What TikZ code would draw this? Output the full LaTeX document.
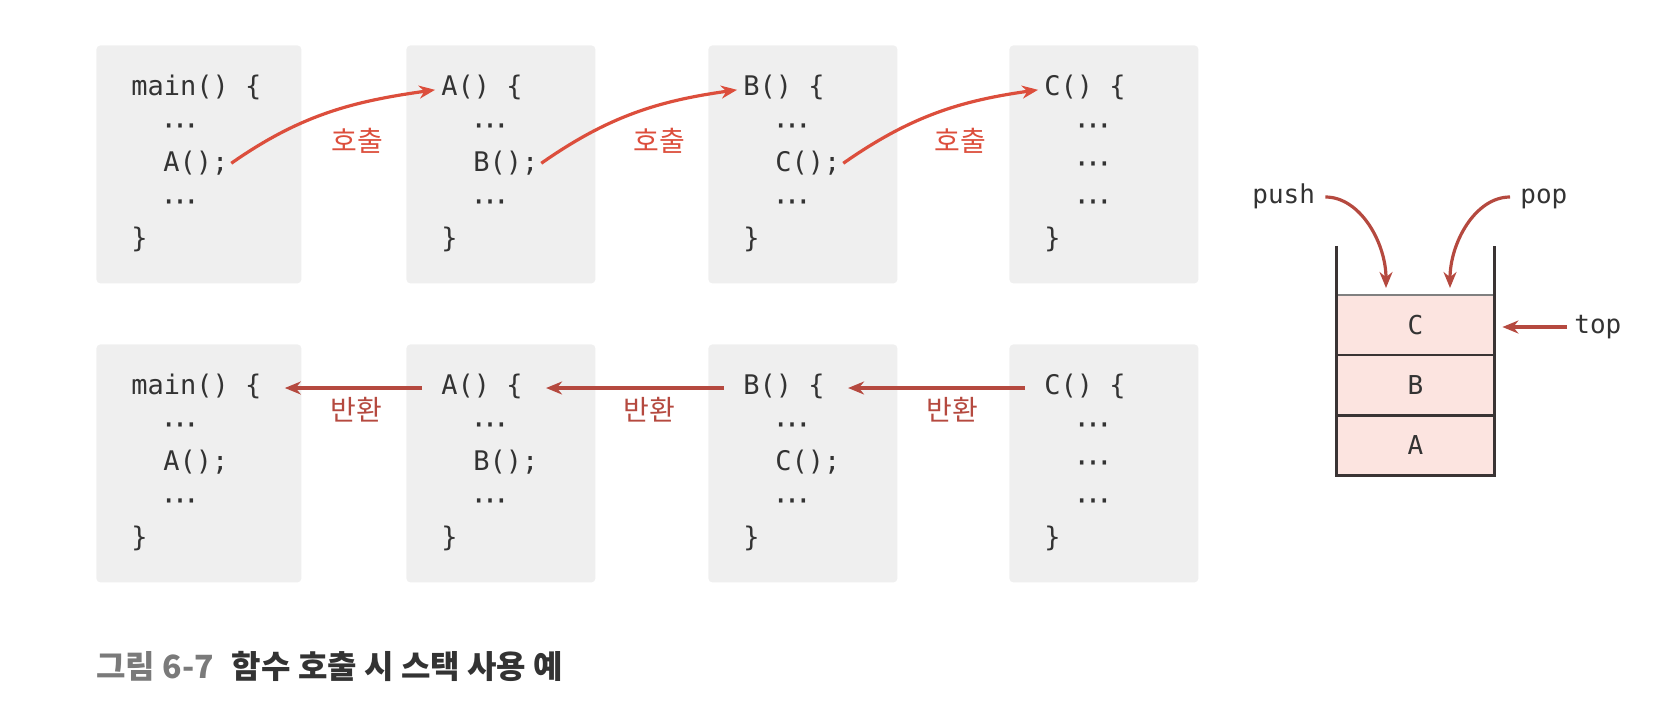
\documentclass[tikz,border=0pt]{standalone}
\usepackage{fontspec}
\setmonofont{DejaVu Sans Mono}
\newfontfamily\cjkfont{Noto Sans CJK KR}
\newfontfamily\symfont{DejaVu Sans}
\usetikzlibrary{arrows.meta,positioning,calc}
\definecolor{boxgray}{HTML}{EFEFEF}
\definecolor{codegray}{HTML}{333333}
\definecolor{callred}{HTML}{DC4E3C}
\definecolor{retred}{HTML}{B5493F}
\definecolor{stackpink}{HTML}{FCE4E0}
\definecolor{wallgray}{HTML}{3A3434}
\definecolor{capgray}{HTML}{7A7A7A}
\newcommand{\codedots}{{\symfont\fontsize{17}{18}\selectfont\raisebox{-1.6pt}{⋯}}}

\begin{document}
\begin{tikzpicture}[
  x=0.5pt, y=0.5pt,
  codebox/.style={
    rectangle,
    rounded corners=2pt,
    fill=boxgray,
    anchor=north west,
    minimum height=119pt,
    inner sep=0pt
  },
  code/.style={
    font=\ttfamily\fontsize{13.5}{16}\selectfont,
    text=codegray,
    anchor=base west,
    inner sep=0pt,
    text height=9pt,
    text depth=3pt
  },
  call/.style={draw=callred, line width=1.6pt, -{Stealth[length=8pt,width=6.5pt]}},
  ret/.style={draw=retred, line width=1.6pt, -{Stealth[length=8pt,width=6.5pt]}},
  calllabel/.style={font=\cjkfont\fontsize{14}{16}\selectfont, text=callred},
  retlabel/.style={font=\cjkfont\fontsize{14}{16}\selectfont, text=retred},
  cell/.style={
    rectangle,
    fill=stackpink,
    minimum width=78.5pt,
    minimum height=29.75pt,
    inner sep=0pt,
    font=\ttfamily\fontsize{13}{16}\selectfont,
    text=codegray
  },
  wall/.style={draw=wallgray, line width=1.4pt},
  stacktext/.style={code, font=\ttfamily\fontsize{13}{16}\selectfont}
]
\useasboundingbox (0,0) rectangle (1669,-707);

% Code frames: calls on top, returns below
\foreach \r/\top in {t/-45, b/-344} {
  \foreach \n/\x/\w/\fname/\callee in {main/96/102.5pt/main/A();, a/406/94.5pt/A/B();, b/708/94.5pt/B/C();, c/1009/94.5pt/C/\codedots} {
    \node[codebox, minimum width=\w] (\r-\n) at (\x,\top) {};
    \node[code] (\r-\n-1) at (\x+35,\top-50) {\fname() \{};
    \node[code] (\r-\n-2) at (\x+67,\top-88) {\codedots};
    \node[code] (\r-\n-3) at (\x+67,\top-126) {\callee};
    \node[code] (\r-\n-4) at (\x+67,\top-164) {\codedots};
    \node[code] (\r-\n-5) at (\x+35,\top-202) {\}};
  }
}

% Calls
\draw[call, shorten <=1.5pt, shorten >=3pt] (t-main-3.east) to[out=35, in=188] (t-a-1.west);
\draw[call, shorten <=1.5pt, shorten >=3pt] (t-a-3.east) to[out=35, in=188] (t-b-1.west);
\draw[call, shorten <=1.5pt, shorten >=3pt] (t-b-3.east) to[out=35, in=188] (t-c-1.west);
\node[calllabel] (call1) at (357,-141) {호출};
\node[calllabel] (call2) at (659,-141) {호출};
\node[calllabel] (call3) at (960,-141) {호출};

% Returns
\draw[ret, shorten <=9.5pt, shorten >=11.5pt] (b-a-1.west) -- (b-main-1.east);
\draw[ret, shorten <=9.5pt, shorten >=11.5pt] (b-b-1.west) -- (b-a-1.east);
\draw[ret, shorten <=9.5pt, shorten >=11.5pt] (b-c-1.west) -- (b-b-1.east);
\node[retlabel] (ret1) at (356,-410) {반환};
\node[retlabel] (ret2) at (649,-410) {반환};
\node[retlabel] (ret3) at (952,-410) {반환};

% Stack
\node[cell] (cellA) at (1415.5,-445.5) {A};
\node[cell, above=0pt of cellA] (cellB) {B};
\node[cell, above=0pt of cellB] (cellC) {C};
\draw[gray, line width=0.8pt] (cellC.north west) -- (cellC.north east);
\draw[wall] (cellB.north west) -- (cellB.north east);
\draw[wall] (cellA.north west) -- (cellA.north east);
\draw[wall] ($(cellC.north west)+(0,24.5pt)$) -- (cellA.south west) -- (cellA.south east) -- ($(cellC.north east)+(0,24.5pt)$);

\node[stacktext] (push) at (1252,-203) {push};
\node[stacktext] (pop) at (1520,-203) {pop};
\node[stacktext] (top) at (1574,-333) {top};
\coordinate (pushin) at (1386,-288);
\coordinate (popin) at (1450,-288);
\draw[ret, shorten <=5pt] (push.east) to[out=0, in=90] (pushin);
\draw[ret, shorten <=5pt] (pop.west) to[out=180, in=90] (popin);
\draw[ret, shorten <=3.5pt, shorten >=4pt] (top.west) -- (top.west -| cellC.east);

% Caption
\node[anchor=west, inner sep=0pt, font=\cjkfont\bfseries\fontsize{16}{19}\selectfont, text=codegray] (caption) at (96,-666)
  {\textcolor{capgray}{그림 6-7}\hspace{9pt}함수 호출 시 스택 사용 예};

\end{tikzpicture}
\end{document}
